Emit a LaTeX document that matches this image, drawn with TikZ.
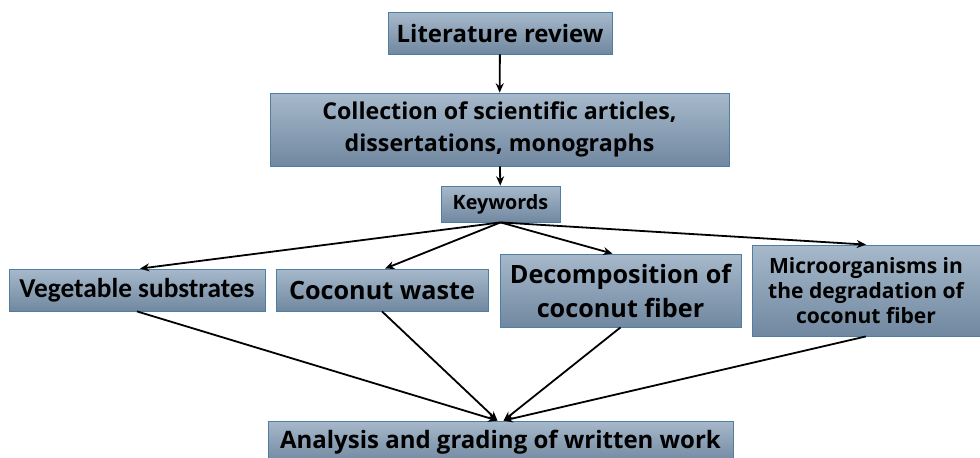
\documentclass[tikz,border=0pt]{standalone}
\usepackage{fontspec}
\setmainfont{Open Sans}
\newfontfamily\calfont{Carlito}
\usetikzlibrary{arrows.meta,calc}
\definecolor{boxtop}{HTML}{A7B9CB}
\definecolor{boxbot}{HTML}{7088A0}
\definecolor{boxedge}{HTML}{4F7FA0}
\tikzset{
  box/.style={draw=boxedge, line width=0.6pt, top color=boxtop, bottom color=boxbot,
    inner sep=0pt, align=center, font=\bfseries},
  arr/.style={line width=1.35pt, -{Stealth[length=7pt,width=6pt]}},
}
\begin{document}
\begin{tikzpicture}[x=0.75pt,y=-0.75pt]
\clip (0,0) rectangle (980,457);
\fill[white] (0,0) rectangle (980,457);
\node[box, minimum width=224*0.75pt, minimum height=42*0.75pt, font=\bfseries\fontsize{18}{21}\selectfont] (lit) at (500,33) {Literature review};
\node[box, minimum width=459*0.75pt, minimum height=73*0.75pt, font=\bfseries\fontsize{17.4}{24.5}\selectfont] (coll) at (499.5,129.5) {Collection of scientific articles,\\dissertations, monographs};
\node[box, minimum width=119*0.75pt, minimum height=36*0.75pt, font=\bfseries\fontsize{14.8}{17}\selectfont] (kw) at (500.5,204) {Keywords};
\node[box, minimum width=256*0.75pt, minimum height=42*0.75pt, font=\calfont\bfseries\fontsize{20.5}{24}\selectfont] (veg) at (137,290) {Vegetable substrates};
\node[box, minimum width=212*0.75pt, minimum height=42*0.75pt, font=\bfseries\fontsize{18.9}{22}\selectfont] (cw) at (382,290) {Coconut waste};
\node[box, minimum width=241*0.75pt, minimum height=73*0.75pt, font=\bfseries\fontsize{18.9}{25.5}\selectfont] (dec) at (620.5,290.5) {Decomposition of\\coconut fiber};
\node[box, minimum width=228*0.75pt, minimum height=91*0.75pt, font=\bfseries\fontsize{15.8}{19}\selectfont] (mic) at (866,290.5) {Microorganisms in\\the degradation of\\coconut fiber};
\node[box, minimum width=465*0.75pt, minimum height=42*0.75pt, font=\bfseries\fontsize{18}{21}\selectfont] (ana) at (500.5,442) {Analysis and grading of written work};
\coordinate (aL) at ($(ana.north)+(-3,0)$);
\coordinate (aR) at ($(ana.north)+(3,0)$);
\coordinate (decT) at ($(dec.north)+(-8,0)$);
\draw[arr] (lit) -- (coll);
\draw[arr] (coll) -- (kw);
\draw[arr] (kw.south) -- ($(veg.north)+(3,0)$);
\draw[arr] (kw.south) -- ($(cw.north)+(3,0)$);
\draw[arr] (kw.south) -- (decT);
\draw[arr] (kw.south) -- (mic.north);
\draw[arr] (veg.south) -- (aL);
\draw[arr] (cw.south) -- (aL);
\draw[arr] (dec.south) -- (aR);
\draw[arr] (mic.south) -- (aR);
\end{tikzpicture}
\end{document}
